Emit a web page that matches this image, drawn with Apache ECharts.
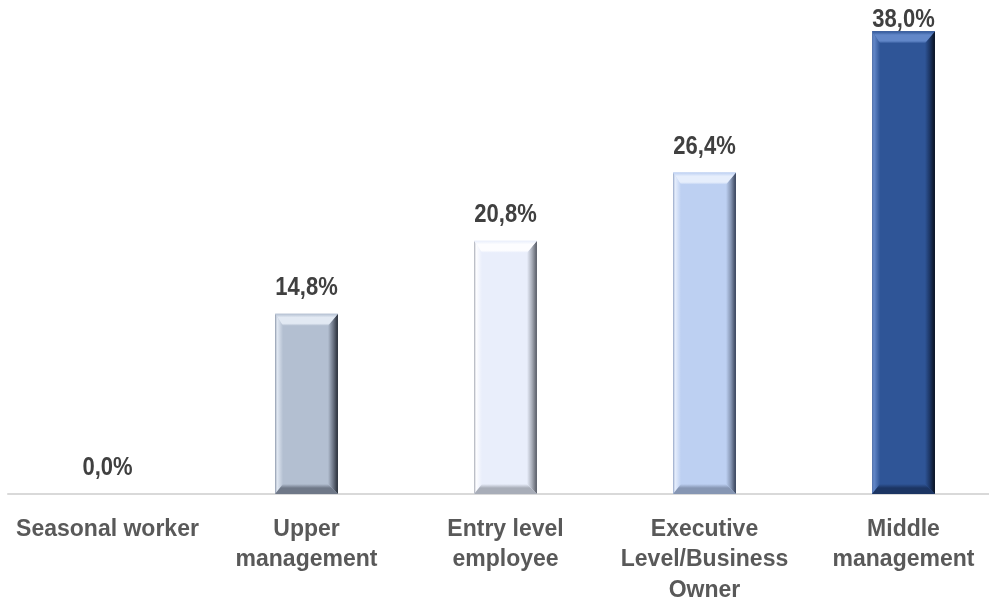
<!DOCTYPE html>
<html>
<head>
<meta charset="utf-8">
<script src="https://cdn.jsdelivr.net/npm/echarts@6/dist/echarts.min.js"></script>
<style>
  html, body { margin: 0; padding: 0; background: #ffffff; }
  #chart { width: 989px; height: 601px; }
</style>
</head>
<body>
<div id="chart"></div>
<script>
// Share of respondents by job level
const categories = [
  'Seasonal worker',
  'Upper\nmanagement',
  'Entry level\nemployee',
  'Executive\nLevel/Business\nOwner',
  'Middle\nmanagement'
];
const shares = [0.0, 14.8, 20.8, 26.4, 38.0];

// Tones for each bar: [face, top highlight, right shadow, bottom shade, left edge]
const tones = [
  ['#b3bfd1', '#e2e9f3', '#262c36', '#6f7888', '#8e99ab'],
  ['#b3bfd1', '#e2e9f3', '#262c36', '#6f7888', '#8e99ab'],
  ['#e9eefb', '#fdfdff', '#555963', '#a8adb8', '#a6aab4'],
  ['#bdd0f2', '#e6eefc', '#343f56', '#8696b3', '#95a6c6'],
  ['#2f5597', '#6287c8', '#09111f', '#1c3563', '#5573aa']
];

const FONT = '"Liberation Sans", Arial, sans-serif';

function fmt(v) {
  return v.toFixed(1).replace('.', ',') + '%';
}

function renderBevelBar(params, api) {
  const idx = api.value(0);
  const val = api.value(1);
  const top = api.coord([idx, val]);
  const base = api.coord([idx, 0]);
  const w = api.size([1, 0])[0] * 0.316;
  const cx = top[0];
  const x0 = cx - w / 2, x1 = cx + w / 2;
  const y0 = top[1], y1 = base[1];
  const h = y1 - y0;
  const t = tones[idx];
  const children = [];

  if (h > 1) {
    const b = Math.min(12, h / 2);   // top bevel depth
    const bb = Math.min(10, h / 2);  // bottom bevel depth
    const r = 10;                    // right bevel width
    const l = 8;                     // left bevel width
    // face
    children.push({
      type: 'rect',
      shape: { x: x0, y: y0, width: w, height: h },
      style: { fill: t[0] }
    });
    // left bevel
    children.push({
      type: 'polygon',
      shape: { points: [[x0, y0], [x0 + l, y0 + b], [x0 + l, y1 - bb], [x0, y1]] },
      style: {
        fill: new echarts.graphic.LinearGradient(0, 0, 1, 0, [
          { offset: 0, color: t[4] },
          { offset: 0.25, color: t[1] },
          { offset: 1, color: t[0] }
        ])
      }
    });
    // right bevel
    children.push({
      type: 'polygon',
      shape: { points: [[x1, y0], [x1, y1], [x1 - r, y1 - bb], [x1 - r, y0 + b]] },
      style: {
        fill: new echarts.graphic.LinearGradient(0, 0, 1, 0, [
          { offset: 0, color: t[0] },
          { offset: 0.5, color: t[3] },
          { offset: 1, color: t[2] }
        ])
      }
    });
    // bottom bevel
    children.push({
      type: 'polygon',
      shape: { points: [[x0, y1], [x1, y1], [x1 - r, y1 - bb], [x0 + l, y1 - bb]] },
      style: {
        fill: new echarts.graphic.LinearGradient(0, 0, 0, 1, [
          { offset: 0, color: t[0] },
          { offset: 0.4, color: t[3] },
          { offset: 1, color: t[3] }
        ])
      }
    });
    // top bevel
    children.push({
      type: 'polygon',
      shape: { points: [[x0, y0], [x1, y0], [x1 - r, y0 + b], [x0 + l, y0 + b]] },
      style: {
        fill: new echarts.graphic.LinearGradient(0, 0, 0, 1, [
          { offset: 0, color: t[0] },
          { offset: 0.3, color: t[1] },
          { offset: 0.8, color: t[1] },
          { offset: 1, color: t[0] }
        ])
      }
    });
  }

  // value label above the bar, kept inside the chart
  const labelY = Math.max(y0 - 13, 33);
  children.push({
    type: 'text',
    x: cx,
    y: labelY,
    scaleX: 0.88,
    style: {
      text: fmt(val),
      fill: '#404040',
      font: 'bold 25px ' + FONT,
      align: 'center',
      verticalAlign: 'bottom'
    }
  });

  return { type: 'group', children: children };
}

const chart = echarts.init(document.getElementById('chart'), null, { renderer: 'canvas' });

chart.setOption({
  animation: false,
  backgroundColor: '#ffffff',
  grid: {
    left: 8, top: 7, width: 995, height: 487,
    containLabel: false,
    outerBoundsMode: 'none'
  },
  xAxis: {
    type: 'category',
    data: categories,
    axisLine: { show: true, lineStyle: { color: '#d9d9d9', width: 2 } },
    axisTick: { show: false },
    axisLabel: {
      interval: 0,
      margin: 20,
      color: '#595959',
      fontFamily: FONT,
      fontWeight: 'bold',
      fontSize: 23,
      lineHeight: 30.5
    }
  },
  yAxis: {
    type: 'value',
    min: 0,
    max: 40,
    show: false,
    splitLine: { show: false }
  },
  series: [{
    type: 'custom',
    renderItem: renderBevelBar,
    data: shares.map((v, i) => [i, v]),
    encode: { x: 0, y: 1 },
    clip: false
  }]
});
</script>
</body>
</html>
